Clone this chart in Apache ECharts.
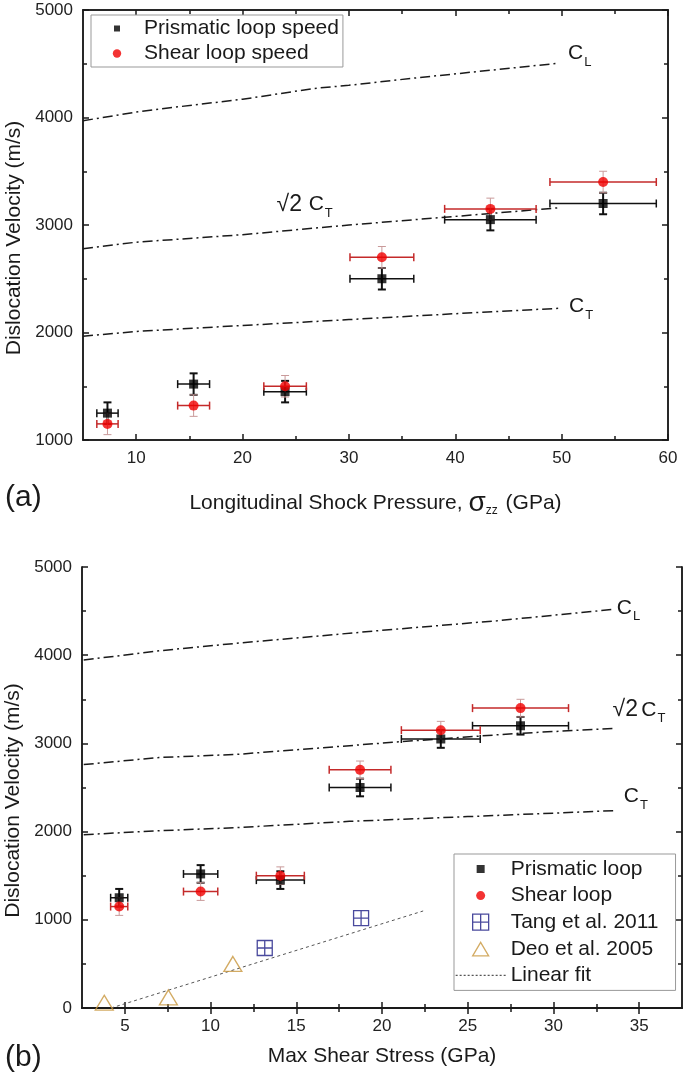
<!DOCTYPE html>
<html>
<head>
<meta charset="utf-8">
<script src="https://cdn.jsdelivr.net/npm/echarts@6/dist/echarts.min.js"></script>
<style>
html, body { margin: 0; padding: 0; background: #fff; }
#chart { width: 685px; height: 1077px; }
</style>
</head>
<body>
<div id="chart"></div>
<script>
// measured speeds (m/s), same loops in both panels
const prismaticSpeed = [1250, 1520, 1450, 2500, 3050, 3200];
const shearSpeed = [1150, 1320, 1500, 2700, 3150, 3400];
const speedErr = [100, 100, 100, 100, 100, 100];

// panel (a): longitudinal shock pressure (GPa)
const pressure = [7.3, 15.4, 24.0, 33.1, 43.3, 53.9];
const pressureErr = [1.0, 1.5, 2.0, 3.0, 4.3, 5.0];

// panel (b): max shear stress (GPa)
const shearStress = [4.67, 9.42, 14.07, 18.72, 23.43, 28.08];
const shearStressErr = [0.5, 1.0, 1.4, 1.8, 2.3, 2.8];

const tangX = [13.16, 18.78];
const tangY = [680, 1020];
const deoX = [3.8, 7.54, 11.3];
const deoY = [60, 120, 500];
const fitX = [4.2, 22.4];
const fitY = [0, 1100];

// sound speed curves, panel (a)
const clAX = [5, 10, 14, 20, 26.7, 30, 36, 49.7];
const clAY = [3970, 4050, 4100, 4170, 4270, 4300, 4365, 4505];
const s2ctAX = [5, 10, 20, 30, 40, 49.7];
const s2ctAY = [2780, 2840, 2910, 3000, 3080, 3160];
const ctAX = [5, 10, 20, 30, 40, 49.7];
const ctAY = [1965, 2010, 2065, 2120, 2175, 2225];

// sound speed curves, panel (b)
const clBX = [2.6, 7, 11.5, 20.6, 26.7, 33.4];
const clBY = [3945, 4050, 4135, 4292, 4390, 4518];
const s2ctBX = [2.6, 7, 11.5, 20.6, 27.7, 33.5];
const s2ctBY = [2760, 2840, 2875, 3012, 3111, 3170];
const ctBX = [2.6, 7, 11.5, 18.1, 25, 33.5];
const ctBY = [1965, 2010, 2045, 2116, 2170, 2237];

// ticks
const xTicksA = [10, 20, 30, 40, 50, 60];
const xMinorA = [15, 25, 35, 45, 55];
const yTicksA = [1000, 2000, 3000, 4000, 5000];
const yMinorA = [1500, 2500, 3500, 4500];
const xTicksB = [5, 10, 15, 20, 25, 30, 35];
const xMinorB = [7.5, 12.5, 17.5, 22.5, 27.5, 32.5];
const yTicksB = [0, 1000, 2000, 3000, 4000, 5000];
const yMinorB = [500, 1500, 2500, 3500, 4500];

const FONT = '"Liberation Sans", Arial, sans-serif';
const INK = '#1a1a1a';

function zip(xs, ys) { return xs.map((x, i) => [x, ys[i]]); }
function withErr(xs, ys, ex, ey) { return xs.map((x, i) => [x, ys[i], ex[i], ey[i]]); }

function axisSet(dim, grid, min, max, majors, minors, name, nameGap, nameStyle) {
  const pos = dim === 'x' ? ['bottom', 'top'] : ['left', 'right'];
  const base = {
    type: 'value', gridIndex: grid, min: min, max: max,
    splitLine: { show: false },
    axisLine: { lineStyle: { color: INK, width: 1.5 } }
  };
  const major = (p, lab) => Object.assign({}, base, {
    position: p,
    axisTick: { inside: true, length: 6, customValues: majors, lineStyle: { color: INK, width: 1.5 } },
    axisLabel: lab ? {
      customValues: majors, margin: 10, fontFamily: FONT, fontSize: 17, color: '#222',
      formatter: v => String(v)
    } : { show: false }
  });
  const minor = (p) => Object.assign({}, base, {
    position: p,
    axisTick: { inside: true, length: 4, customValues: minors, lineStyle: { color: INK, width: 1.5 } },
    axisLabel: { show: false }
  });
  const first = major(pos[0], true);
  first.name = name;
  first.nameLocation = 'middle';
  first.nameGap = nameGap;
  first.nameTextStyle = nameStyle;
  return [first, minor(pos[0]), major(pos[1], false), minor(pos[1])];
}

const nameBase = { fontFamily: FONT, fontSize: 21, color: INK };
const subRich = {
  big: { fontFamily: FONT, fontSize: 21, color: INK },
  sub: { fontFamily: FONT, fontSize: 13, color: INK, padding: [18, 0, 0, 1] },
  rt: { fontFamily: FONT, fontSize: 23, color: INK }
};

function curve(name, xs, ys, grid, labelText, labelAt) {
  return {
    name: name, type: 'line', xAxisIndex: grid * 4, yAxisIndex: grid * 4,
    data: zip(xs, ys), symbol: 'none', z: 1, silent: true,
    lineStyle: { color: INK, width: 1.5, type: [10, 4, 2, 4] },
    markPoint: {
      symbol: 'circle', symbolSize: 0, silent: true,
      itemStyle: { color: 'transparent' },
      label: { show: true, position: 'right', distance: 0, formatter: labelText, rich: subRich },
      data: [{ coord: labelAt }]
    }
  };
}

function errorBars(hColor, vColor, hWidth, vWidth, cap) {
  return function (params, api) {
    const x = api.value(0), y = api.value(1), ex = api.value(2), ey = api.value(3);
    const l = api.coord([x - ex, y]);
    const r = api.coord([x + ex, y]);
    const t = api.coord([x, y + ey]);
    const b = api.coord([x, y - ey]);
    const hs = { stroke: hColor, lineWidth: hWidth };
    const vs = { stroke: vColor, lineWidth: vWidth };
    const ln = (x1, y1, x2, y2, s) => ({ type: 'line', shape: { x1: x1, y1: y1, x2: x2, y2: y2 }, style: s });
    return {
      type: 'group',
      children: [
        ln(t[0], t[1], b[0], b[1], vs),
        ln(t[0] - cap, t[1], t[0] + cap, t[1], vs),
        ln(b[0] - cap, b[1], b[0] + cap, b[1], vs),
        ln(l[0], l[1], r[0], r[1], hs),
        ln(l[0], l[1] - cap, l[0], l[1] + cap, hs),
        ln(r[0], r[1] - cap, r[0], r[1] + cap, hs)
      ]
    };
  };
}

function errSeries(grid, data, isRed) {
  return {
    type: 'custom', xAxisIndex: grid * 4, yAxisIndex: grid * 4, z: 2, silent: true,
    encode: { x: 0, y: 1 },
    renderItem: isRed ? errorBars('#c42a2a', '#c99a9a', 1.5, 1, 4) : errorBars('#111', '#111', 1.5, 2, 4),
    data: data
  };
}

const yName = 'Dislocation Velocity (m/s)';
const yNameStyle = Object.assign({}, nameBase, { padding: [0, 26, 0, 0] });

const xAxes = []
  .concat(axisSet('x', 0, 5, 60, xTicksA, xMinorA,
    'Longitudinal Shock Pressure, {sig|σ}{zz|zz} (GPa)', 49,
    Object.assign({}, nameBase, { rich: {
      sig: { fontFamily: FONT, fontSize: 28, color: INK },
      zz: { fontFamily: FONT, fontSize: 12, color: INK, padding: [16, 2, 0, 0] }
    } })))
  .concat(axisSet('x', 1, 2.5, 37.5, xTicksB, xMinorB, 'Max Shear Stress (GPa)', 38, nameBase));

const yAxes = []
  .concat(axisSet('y', 0, 1000, 5000, yTicksA, yMinorA, yName, 58, yNameStyle))
  .concat(axisSet('y', 1, 0, 5000, yTicksB, yMinorB, yName, 58, yNameStyle));

// legend icons drawn inside a box of the full icon size so they keep their place
const legSquareA = 'path://M0,0M44,12M19,3H25V9H19Z';
const legCircleA = 'path://M0,0M44,12M26.2,6A4.2,4.2,0,1,1,17.8,6A4.2,4.2,0,1,1,26.2,6Z';
const padSquare = 'path://M0,0M50,16M21,4H29V12H21Z';
const padCircle = 'path://M0,0M50,16M29.5,8A4.5,4.5,0,1,1,20.5,8A4.5,4.5,0,1,1,29.5,8Z';
const padTriangle = 'path://M0,0M50,16M25,1.5L33,15H17Z';
const tangIcon = 'path://M0,0H16V16H0Z M8,0V16 M0,8H16';
const tangLegend = 'path://M0,0M50,16M17,0H33V16H17Z M25,0V16 M17,8H33';
let dottedIcon = 'path://M0,0M50,16';
for (let i = 0; i < 50; i += 4) dottedIcon += 'M' + i + ',7.4h2v1.2h-2z';

const option = {
  animation: false,
  backgroundColor: '#fff',
  grid: [
    { left: 83, top: 10, width: 585, height: 430, outerBoundsMode: 'none', containLabel: false },
    { left: 82, top: 567, width: 600, height: 441, outerBoundsMode: 'none', containLabel: false }
  ],
  xAxis: xAxes,
  yAxis: yAxes,
  legend: [
    {
      orient: 'vertical', left: 91, top: 15, padding: [2.5, 4, 2.5, 4],
      itemGap: 3, itemWidth: 44, itemHeight: 12,
      borderColor: '#999', borderWidth: 1, backgroundColor: '#fff',
      textStyle: { fontFamily: FONT, fontSize: 21, color: INK, lineHeight: 22 },
      data: [
        { name: 'Prismatic loop speed', icon: legSquareA },
        { name: 'Shear loop speed', icon: legCircleA }
      ]
    },
    {
      orient: 'vertical', left: 454, top: 854, padding: [4, 17, 4, 1],
      itemGap: 4.6, itemWidth: 50, itemHeight: 16,
      borderColor: '#999', borderWidth: 1, backgroundColor: '#fff',
      textStyle: { fontFamily: FONT, fontSize: 21, color: INK, lineHeight: 22 },
      data: [
        { name: 'Prismatic loop', icon: padSquare },
        { name: 'Shear loop', icon: padCircle },
        { name: 'Tang et al. 2011', icon: tangLegend, itemStyle: { borderWidth: 1.3 } },
        { name: 'Deo et al. 2005', icon: padTriangle, itemStyle: { borderWidth: 1.3 } },
        { name: 'Linear fit', icon: dottedIcon, itemStyle: { color: '#555', borderWidth: 0 } }
      ]
    }
  ],
  graphic: [
    { type: 'text', x: 5, y: 498, style: { text: '(a)', fontFamily: FONT, fontSize: 30, fill: INK, verticalAlign: 'middle' } },
    { type: 'text', x: 5, y: 1058, style: { text: '(b)', fontFamily: FONT, fontSize: 30, fill: INK, verticalAlign: 'middle' } }
  ],
  series: [
    curve('CL a', clAX, clAY, 0, '{big|C}{sub|L}', [50.6, 4600]),
    curve('s2CT a', s2ctAX, s2ctAY, 0, '{rt|√2}  {big|C}{sub|T}', [23.2, 3190]),
    curve('CT a', ctAX, ctAY, 0, '{big|C}{sub|T}', [50.7, 2240]),
    errSeries(0, withErr(pressure, prismaticSpeed, pressureErr, speedErr), false),
    errSeries(0, withErr(pressure, shearSpeed, pressureErr, speedErr), true),
    {
      name: 'Prismatic loop speed', type: 'scatter', xAxisIndex: 0, yAxisIndex: 0, z: 3,
      symbol: 'rect', symbolSize: 9, itemStyle: { color: '#000' },
      data: zip(pressure, prismaticSpeed)
    },
    {
      name: 'Shear loop speed', type: 'scatter', xAxisIndex: 0, yAxisIndex: 0, z: 4,
      symbol: 'circle', symbolSize: 10, itemStyle: { color: '#f00000' },
      data: zip(pressure, shearSpeed)
    },

    curve('CL b', clBX, clBY, 1, '{big|C}{sub|L}', [33.7, 4538]),
    curve('s2CT b', s2ctBX, s2ctBY, 1, '{rt|√2} {big|C}{sub|T}', [33.45, 3382]),
    curve('CT b', ctBX, ctBY, 1, '{big|C}{sub|T}', [34.1, 2399]),
    {
      name: 'Linear fit', type: 'line', xAxisIndex: 4, yAxisIndex: 4, z: 1,
      symbol: 'none', data: zip(fitX, fitY),
      itemStyle: { color: '#555' },
      lineStyle: { color: '#555', width: 1, type: [3, 3] }
    },
    errSeries(1, withErr(shearStress, prismaticSpeed, shearStressErr, speedErr), false),
    errSeries(1, withErr(shearStress, shearSpeed, shearStressErr, speedErr), true),
    {
      name: 'Prismatic loop', type: 'scatter', xAxisIndex: 4, yAxisIndex: 4, z: 3,
      symbol: 'rect', symbolSize: 9, itemStyle: { color: '#000' },
      data: zip(shearStress, prismaticSpeed)
    },
    {
      name: 'Shear loop', type: 'scatter', xAxisIndex: 4, yAxisIndex: 4, z: 4,
      symbol: 'circle', symbolSize: 10, itemStyle: { color: '#f00000' },
      data: zip(shearStress, shearSpeed)
    },
    {
      name: 'Tang et al. 2011', type: 'scatter', xAxisIndex: 4, yAxisIndex: 4, z: 3,
      symbol: tangIcon, symbolSize: 15,
      itemStyle: { color: 'rgba(0,0,0,0)', borderColor: '#1c1c84', borderWidth: 1.3 },
      data: zip(tangX, tangY)
    },
    {
      name: 'Deo et al. 2005', type: 'scatter', xAxisIndex: 4, yAxisIndex: 4, z: 3,
      symbol: 'triangle', symbolSize: [18, 15],
      itemStyle: { color: 'rgba(0,0,0,0)', borderColor: '#c8963c', borderWidth: 1.3 },
      data: zip(deoX, deoY)
    }
  ]
};

const chart = echarts.init(document.getElementById('chart'), null, { renderer: 'canvas' });
chart.setOption(option);
</script>
</body>
</html>
